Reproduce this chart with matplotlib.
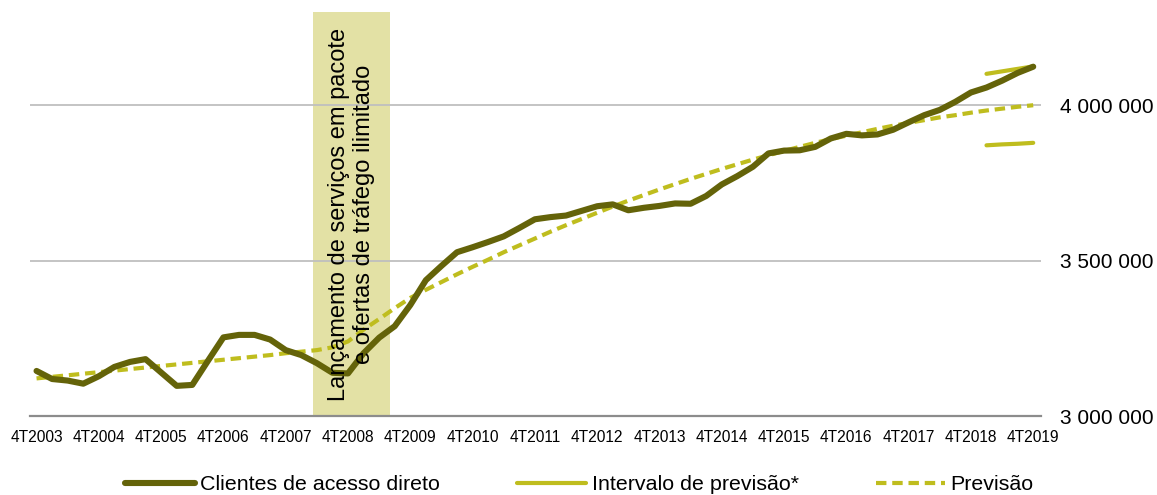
import matplotlib
matplotlib.use("Agg")
import matplotlib.pyplot as plt
from matplotlib.lines import Line2D

plt.rcParams["font.family"] = ["Liberation Sans", "DejaVu Sans"]

# Quarterly index: 0 = 4T2003 ... 64 = 4T2019
tick_labels = ["4T2003", "4T2004", "4T2005", "4T2006", "4T2007", "4T2008",
               "4T2009", "4T2010", "4T2011", "4T2012", "4T2013", "4T2014",
               "4T2015", "4T2016", "4T2017", "4T2018", "4T2019"]

# Direct-access customers (thousands)
clientes = [3145, 3119, 3114, 3104, 3128, 3158, 3174, 3183, 3140, 3097,
            3100, 3177, 3253, 3261, 3261, 3246, 3212, 3196, 3170, 3139,
            3137, 3202, 3252, 3289, 3357, 3437, 3483, 3527, 3543, 3560,
            3578, 3605, 3633, 3640, 3645, 3660, 3675, 3681, 3662, 3670,
            3676, 3684, 3683, 3708, 3745, 3772, 3802, 3845, 3854, 3855,
            3866, 3893, 3908, 3903, 3906, 3921, 3945, 3968, 3985, 4011,
            4041, 4057, 4079, 4104, 4124]

# Forecast curve (thousands)
previsao = [3121, 3126, 3131, 3136, 3141, 3146, 3151, 3156, 3161, 3166,
            3171, 3176, 3181, 3186, 3191, 3196, 3202, 3207, 3212, 3221,
            3240, 3278, 3312, 3347, 3380, 3406, 3431, 3456, 3480, 3503,
            3527, 3549, 3571, 3593, 3614, 3634, 3654, 3674, 3693, 3711,
            3729, 3746, 3763, 3779, 3795, 3810, 3825, 3839, 3853, 3866,
            3879, 3891, 3902, 3913, 3924, 3934, 3943, 3952, 3961, 3968,
            3976, 3983, 3989, 3995, 4000]

# Forecast interval (thousands), last quarters only
intervalo_q = [61, 62, 63, 64]
intervalo_sup = [4101, 4109, 4117, 4125]
intervalo_inf = [3871, 3874, 3876, 3879]

# Period highlighted by the vertical band (quarter index)
faixa = [17.76, 22.7]
faixa_texto = "Lançamento de serviços em pacote\ne ofertas de tráfego ilimitado"

y_ticks = [3000, 3500, 4000]

c_main = "#646309"
c_fore = "#BFBD1E"
c_band = "#E3E1A5"

fig = plt.figure(figsize=(11.57, 4.95), dpi=100)
ax = fig.add_axes([30 / 1157, 79 / 495, (1041 - 30) / 1157, (416 - 12) / 495])

q = list(range(len(clientes)))
s = lambda v: [x * 1000 for x in v]

ax.axvspan(faixa[0], faixa[1], color=c_band, zorder=0, lw=0)
for yt in y_ticks[1:]:
    ax.axhline(yt * 1000, color="#BFBFBF", lw=1.3, zorder=1)

ax.plot(q, s(previsao), color=c_fore, lw=3.0, ls=(0, (2.5, 1.4)),
        zorder=3, dash_capstyle="butt")
ax.plot(intervalo_q, s(intervalo_sup), color=c_fore, lw=3.0,
        solid_capstyle="round", zorder=3)
ax.plot(intervalo_q, s(intervalo_inf), color=c_fore, lw=3.0,
        solid_capstyle="round", zorder=3)
ax.plot(q, s(clientes), color=c_main, lw=4.4, solid_capstyle="round",
        solid_joinstyle="round", zorder=4)

ax.text(sum(faixa) / 2, 3650000, faixa_texto, rotation=90, ha="center",
        va="center", multialignment="center", fontsize=17, color="#000000",
        linespacing=1.15, zorder=5)

ax.set_xlim(-0.42, 64.5)
ax.set_ylim(3000000, 4300000)
ax.set_xticks(list(range(0, 65, 4)))
ax.set_xticklabels(tick_labels, fontsize=11.2)
ax.set_yticks([v * 1000 for v in y_ticks])
ax.set_yticklabels([f"{v * 1000:,}".replace(",", " ") for v in y_ticks],
                   fontsize=15)
ax.yaxis.tick_right()
ax.tick_params(axis="y", length=0, pad=14)
ax.tick_params(axis="x", length=0, pad=10)

for side in ["top", "left", "right"]:
    ax.spines[side].set_visible(False)
ax.spines["bottom"].set_color("#8C8C8C")
ax.spines["bottom"].set_linewidth(1.6)
ax.spines["bottom"].set_zorder(2)

handles = [
    Line2D([], [], color=c_main, lw=4.4, solid_capstyle="round"),
    Line2D([], [], color=c_fore, lw=3.0, solid_capstyle="round"),
    Line2D([], [], color=c_fore, lw=3.0, ls=(0, (2.5, 1.4))),
]
labels = ["Clientes de acesso direto", "Intervalo de previsão*", "Previsão"]
fig.legend(handles, labels, loc="center left",
           bbox_to_anchor=(125 / 1157, (495 - 485) / 495),
           ncol=3, frameon=False, fontsize=15.4, handlelength=3.25,
           handletextpad=0.25, columnspacing=3.6, borderpad=0,
           borderaxespad=0)

fig.savefig("out.png", dpi=100)
